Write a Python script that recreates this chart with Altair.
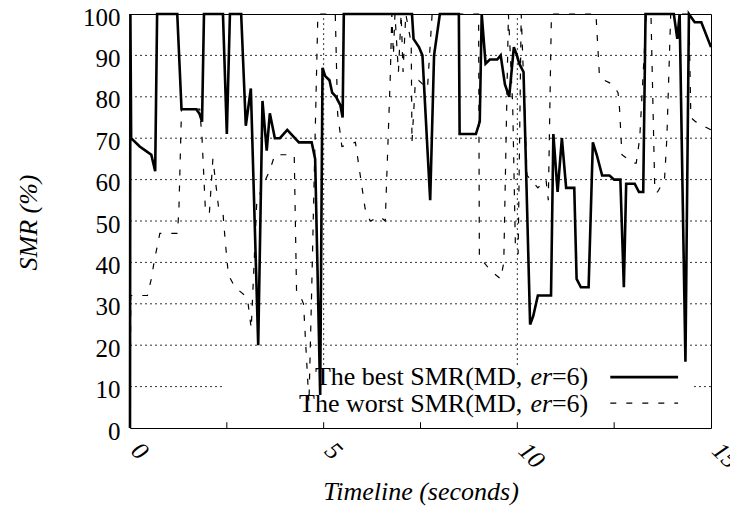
import altair as alt
import pandas as pd

# ---- data ----
best_t = [0, 0.01, 0.03, 0.25, 0.4, 0.55, 0.65, 0.70,
          1.22, 1.33, 1.71, 1.79, 1.86, 1.91,
          2.40, 2.50, 2.58, 2.87, 2.99, 3.12, 3.31, 3.42, 3.53, 3.61, 3.74, 3.87,
          4.06, 4.36, 4.69, 4.78, 4.91, 4.97, 5.04, 5.15, 5.22, 5.32, 5.43, 5.49, 5.52,
          7.28, 7.32, 7.46, 7.55, 7.75, 7.85, 8.0, 8.49, 8.51, 8.93, 9.03, 9.08,
          9.18, 9.29, 9.48, 9.57, 9.68, 9.79, 9.91, 9.99, 10.05, 10.16,
          10.33, 10.41, 10.53, 10.87, 10.93, 11.04, 11.15, 11.26, 11.47, 11.53, 11.64, 11.84,
          11.95, 12.05, 12.19, 12.38, 12.5, 12.66, 12.75, 12.81, 13.03, 13.14, 13.25, 13.31,
          14.04, 14.13, 14.19, 14.34, 14.43, 14.58, 14.75, 15.0]
best_v = [0, 100, 70, 68, 67, 66, 62, 100,
          100, 77, 77, 76, 74, 100,
          100, 71, 100, 100, 73, 82, 20, 79, 67, 76, 70, 70,
          72, 69, 69, 65, 8, 87, 85, 84, 81, 80, 78, 75, 100,
          100, 94, 92, 90, 55, 90, 100, 100, 71, 71, 74, 100,
          88, 89, 89, 90, 83, 80, 92, 90, 88, 86,
          25, 27, 32, 32, 71, 57, 70, 58, 58, 36, 34, 34,
          69, 66, 61, 61, 60, 60, 34, 59, 59, 57, 57, 100,
          100, 94, 100, 16, 100, 98, 98, 92]

worst_t = [0, 0.02, 0.45, 0.55, 0.62, 0.77, 1.22, 1.26, 1.33, 1.80,
           1.86, 1.95, 2.05, 2.14, 2.29, 2.40, 2.46, 2.54, 2.71, 2.97,
           3.05, 3.13, 3.27, 3.40, 3.60, 3.74, 4.24, 4.30, 4.39, 4.48,
           4.62, 4.69, 4.85, 5.30, 5.36, 5.47, 5.82, 6.07, 6.20, 6.46,
           6.59, 6.72, 6.76, 6.80, 6.84, 6.93, 7.00, 7.05, 7.12, 7.26,
           7.28, 7.37, 7.45, 7.68, 7.80, 9.00, 9.02, 9.14, 9.31, 9.57,
           9.65, 9.77, 9.88, 9.95, 10.02, 10.10, 10.25, 10.35, 10.53, 10.74,
           10.80, 10.88, 12.03, 12.12, 12.25, 12.46, 12.60, 12.64, 12.70, 12.99,
           13.07, 13.16, 13.33, 13.45, 13.55, 13.62, 13.80, 13.86, 13.96, 14.43,
           14.48, 14.60, 14.80, 15.0]
worst_v = [0, 32, 32, 36, 40, 47, 47, 52, 77, 77,
           70, 52, 52, 65, 53, 52, 45, 37, 34, 32,
           30, 24, 54, 58, 62, 66, 66, 33, 32, 30,
           6, 33, 100, 100, 76, 68, 69, 53, 50, 51,
           50, 85, 100, 90, 100, 86, 100, 86, 100, 93,
           69, 84, 84, 82, 100, 100, 41, 40, 38, 36,
           40, 100, 78, 44, 42, 100, 61, 60, 58, 60,
           55, 100, 100, 85, 84, 83, 81, 77, 66, 64,
           64, 70, 100, 100, 57, 57, 60, 70, 100, 100,
           75, 74, 73, 72]

x_tick_values = [0, 5, 10, 15]
x_minor_ticks = [2.5, 5, 7.5, 10, 12.5]
y_tick_values = [0, 10, 20, 30, 40, 50, 60, 70, 80, 90, 100]
x_grid = [5, 10]
y_grid = [20, 30, 40, 50, 60, 70, 80, 90]

legend_best = "The best SMR(MD,"
legend_worst = "The worst SMR(MD,"
legend_italic = "er"
legend_tail = "=6)"

FONT = "Liberation Serif"

# ---- tables ----
df_best = pd.DataFrame({"t": best_t, "v": best_v, "i": range(len(best_t))})
df_worst = pd.DataFrame({"t": worst_t, "v": worst_v, "i": range(len(worst_t))})

# grid segments (the y=10 line is interrupted by the key)
hgrid = pd.DataFrame(
    {"t": [0] * len(y_grid) + [0, 14.56],
     "t2": [15] * len(y_grid) + [2.38, 15],
     "v": y_grid + [10, 10]})
vgrid = pd.DataFrame({"t": x_grid, "v": [15.2] * len(x_grid), "v2": [100] * len(x_grid)})
mticks = pd.DataFrame({"t": x_minor_ticks, "v": [0] * len(x_minor_ticks),
                       "v2": [1.4] * len(x_minor_ticks)})

xs = alt.Scale(domain=[0, 15], nice=False, zero=False)
ys = alt.Scale(domain=[0, 100], nice=False, zero=False)

xaxis = alt.Axis(values=x_tick_values, labelAngle=45, labelAlign="left",
                 labelBaseline="middle", labelFontStyle="italic", labelFont=FONT,
                 labelFontSize=25, labelPadding=18, labelOffset=5, labelColor="black",
                 labelFlush=False, labelOverlap=False, ticks=False, tickSize=0,
                 domain=False, grid=False,
                 title="Timeline (seconds)", titleFont=FONT, titleFontSize=26,
                 titleFontStyle="italic", titleFontWeight="normal",
                 titleColor="black", titleY=63, titleBaseline="middle")
yaxis = alt.Axis(values=y_tick_values, labelFont=FONT, labelFontSize=25,
                 labelPadding=10, labelOffset=3, labelColor="black", labelBaseline="middle",
                 labelFlush=False, labelOverlap=False, ticks=False, tickSize=0,
                 domain=False, grid=False,
                 title="SMR (%)", titleFont=FONT, titleFontSize=26,
                 titleFontStyle="italic", titleFontWeight="normal",
                 titleColor="black", titleX=-102, titleY=208, titleAngle=270,
                 titleBaseline="middle", titleAlign="center")

X = lambda f="t": alt.X(f"{f}:Q", scale=xs, axis=xaxis)
Y = lambda f="v": alt.Y(f"{f}:Q", scale=ys, axis=yaxis)

grid_style = dict(color="#333333", strokeWidth=1, strokeDash=[2, 3])

hgrid_layer = alt.Chart(hgrid).mark_rule(**grid_style).encode(
    x=X(), x2="t2:Q", y=Y())
vgrid_layer = alt.Chart(vgrid).mark_rule(**grid_style).encode(
    x=X(), y=Y(), y2="v2:Q")
tick_layer = alt.Chart(mticks).mark_rule(color="black", strokeWidth=1).encode(
    x=X(), y=Y(), y2="v2:Q")

best_layer = alt.Chart(df_best).mark_line(
    color="black", strokeWidth=2.6).encode(
    x=X(), y=Y(), order="i:Q")
worst_layer = alt.Chart(df_worst).mark_line(
    color="black", strokeWidth=1.2, strokeDash=[6, 10]).encode(
    x=X(), y=Y(), order="i:Q")

# key
key_samples = pd.DataFrame({"t": [12.4, 12.4], "t2": [14.15, 14.15],
                            "v": [12.3, 6.0], "s": ["best", "worst"]})
key_best_line = alt.Chart(key_samples[key_samples.s == "best"]).mark_rule(
    color="black", strokeWidth=2.6).encode(x=X(), x2="t2:Q", y=Y())
key_worst_line = alt.Chart(key_samples[key_samples.s == "worst"]).mark_rule(
    color="black", strokeWidth=1.2, strokeDash=[6, 10]).encode(x=X(), x2="t2:Q", y=Y())

key_text = pd.DataFrame({"t": [11.83, 11.83], "v": [10.4, 3.9],
                         "main": [legend_best, legend_worst],
                         "it": [legend_italic, legend_italic],
                         "tail": [legend_tail, legend_tail]})
txt = dict(font=FONT, fontSize=26, color="black", align="right",
           baseline="alphabetic")
key_tail = alt.Chart(key_text).mark_text(**txt).encode(x=X(), y=Y(), text="tail:N")
key_it = alt.Chart(key_text).mark_text(dx=-36, fontStyle="italic", **txt).encode(
    x=X(), y=Y(), text="it:N")
key_main = alt.Chart(key_text).mark_text(dx=-66, **txt).encode(
    x=X(), y=Y(), text="main:N")

chart = alt.layer(
    hgrid_layer, vgrid_layer, tick_layer, best_layer, worst_layer,
    key_best_line, key_worst_line, key_main, key_it, key_tail
).properties(
    width=581, height=414,
    autosize=alt.AutoSizeParams(type="none"),
    padding={"left": 122, "top": 6, "right": 19, "bottom": 81},
    background="white"
).configure_view(stroke="black", strokeWidth=1)

chart.save("out.html", embed_options={"renderer": "svg", "actions": False})
